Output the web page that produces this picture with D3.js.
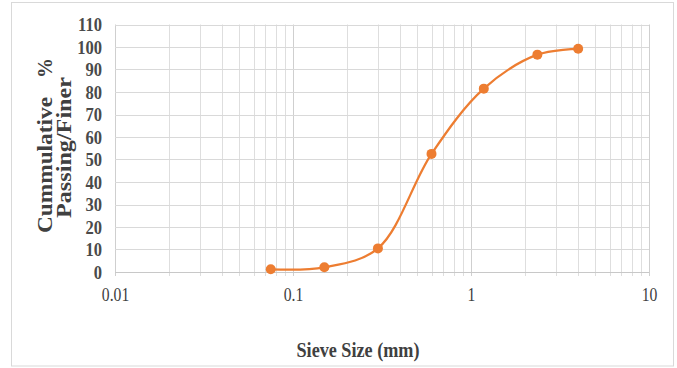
<!DOCTYPE html>
<html>
<head>
<meta charset="utf-8">
<script src="https://cdn.jsdelivr.net/npm/d3@7"></script>
<style>
  body { margin: 0; background: #fff; }
  svg { display: block; }
</style>
</head>
<body>
<div id="chart"></div>
<script>
// sieve analysis data
const sieveSizes = [0.075, 0.15, 0.3, 0.6, 1.18, 2.36, 4];
const passing = [1.2, 2.1, 10.5, 52.5, 81.5, 96.6, 99.2];
const xTicks = [0.01, 0.1, 1, 10];
const yTicks = [0, 10, 20, 30, 40, 50, 60, 70, 80, 90, 100, 110];

const width = 677, height = 368;
const margin = {top: 24.5, right: 28, bottom: 96, left: 115};
const serif = '"Liberation Serif", "Times New Roman", serif';

const svg = d3.select('#chart').append('svg')
  .attr('width', width)
  .attr('height', height);

// outer chart border
svg.append('rect')
  .attr('x', 11.5).attr('y', 2.5)
  .attr('width', 662).attr('height', 363.5)
  .attr('fill', 'none')
  .attr('stroke', '#d9d9d9');

const x = d3.scaleLog()
  .domain([0.01, 10])
  .range([margin.left, width - margin.right]);

const y = d3.scaleLinear()
  .domain([0, 110])
  .range([height - margin.bottom, margin.top]);

// minor + major vertical gridlines (1..9 per decade)
const gridX = [];
for (let d = 0.01; d < 10; d *= 10) {
  for (let k = 1; k <= 9; k++) gridX.push(+(d * k).toPrecision(3));
}
gridX.push(10);

svg.append('g')
  .selectAll('line')
  .data(gridX)
  .enter().append('line')
    .attr('x1', d => Math.round(x(d)) + 0.5)
    .attr('x2', d => Math.round(x(d)) + 0.5)
    .attr('y1', y(110))
    .attr('y2', y(0) + 4)
    .attr('stroke', d => xTicks.includes(d) ? '#cfcfcf' : '#dedede')
    .attr('stroke-width', 1);

// horizontal gridlines
svg.append('g')
  .selectAll('line')
  .data(yTicks)
  .enter().append('line')
    .attr('x1', x(0.01))
    .attr('x2', x(10))
    .attr('y1', d => Math.round(y(d)) + 0.5)
    .attr('y2', d => Math.round(y(d)) + 0.5)
    .attr('stroke', d => d === 0 ? '#c8c8c8' : '#d9d9d9');

// squeeze a label horizontally, keeping its anchor
function squeeze(sel, k) {
  sel.each(function () {
    const w = this.getComputedTextLength();
    d3.select(this)
      .attr('textLength', w * k)
      .attr('lengthAdjust', 'spacingAndGlyphs');
  });
}

// y axis tick labels
const yAxis = svg.append('g')
  .attr('transform', 'translate(102,0)')
  .call(d3.axisLeft(y).tickValues(yTicks).tickSize(0).tickPadding(0));
yAxis.select('.domain').remove();
yAxis.selectAll('text')
  .attr('font-family', serif)
  .attr('font-weight', 'bold')
  .attr('font-size', 18)
  .attr('fill', '#4a4a4a')
  .attr('x', 0)
  .attr('dy', '0.34em')
  .call(squeeze, 0.92);

// x axis tick labels
const xAxis = svg.append('g')
  .attr('transform', 'translate(0,301)')
  .call(d3.axisBottom(x).tickValues(xTicks).tickFormat(d => String(d)).tickSize(0).tickPadding(0));
xAxis.select('.domain').remove();
xAxis.selectAll('text')
  .attr('font-family', serif)
  .attr('font-size', 18)
  .attr('fill', '#404040')
  .attr('y', 0)
  .attr('dy', 0)
  .call(squeeze, 0.87);

// smoothed curve through points (screen-space catmull-rom, like excel)
const line = d3.line()
  .x(d => x(d[0]))
  .y(d => y(d[1]))
  .curve(d3.curveCatmullRom.alpha(0.5));

const pts = sieveSizes.map((s, i) => [s, passing[i]]);

svg.append('path')
  .datum(pts)
  .attr('d', line)
  .attr('fill', 'none')
  .attr('stroke', '#ED7D31')
  .attr('stroke-width', 2.25);

svg.append('g')
  .selectAll('circle')
  .data(pts)
  .enter().append('circle')
    .attr('cx', d => x(d[0]))
    .attr('cy', d => y(d[1]))
    .attr('r', 5)
    .attr('fill', '#ED7D31');

// axis titles
svg.append('text')
  .attr('x', 358)
  .attr('y', 357)
  .attr('text-anchor', 'middle')
  .attr('font-family', serif)
  .attr('font-weight', 'bold')
  .attr('font-size', 20)
  .attr('fill', '#404040')
  .attr('textLength', 123)
  .attr('lengthAdjust', 'spacingAndGlyphs')
  .text('Sieve Size (mm)');

const yTitle = svg.append('g')
  .attr('transform', 'rotate(-90)')
  .attr('font-family', serif)
  .attr('font-weight', 'bold')
  .attr('font-size', 20)
  .attr('fill', '#404040');

// rotated: text x runs bottom-to-top, so x = -screenY
yTitle.append('text')
  .attr('x', -233).attr('y', 52)
  .attr('textLength', 136)
  .attr('lengthAdjust', 'spacingAndGlyphs')
  .text('Cummulative');

yTitle.append('text')
  .attr('x', -78).attr('y', 52)
  .text('%');

yTitle.append('text')
  .attr('x', -147.5).attr('y', 71)
  .attr('text-anchor', 'middle')
  .attr('textLength', 141)
  .attr('lengthAdjust', 'spacingAndGlyphs')
  .text('Passing/Finer');
</script>
</body>
</html>
